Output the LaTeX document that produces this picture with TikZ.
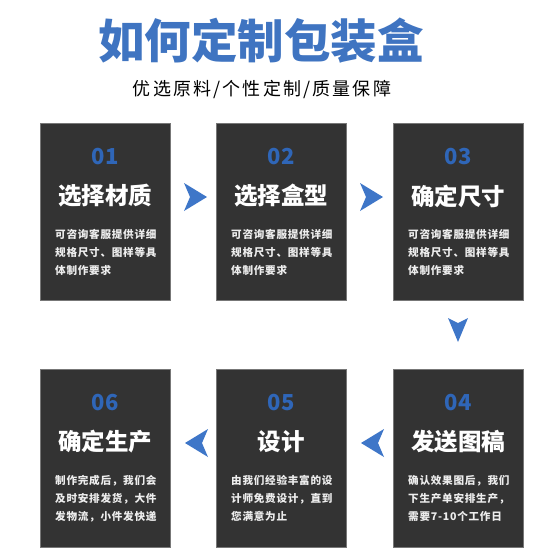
\documentclass[tikz,border=0pt]{standalone}
\usepackage{fontspec}
\setmainfont{Noto Sans CJK SC}
\newfontfamily\cjk{Noto Sans CJK SC}
\newfontfamily\cjksub[LetterSpace=12]{Noto Sans CJK SC}
\newfontfamily\cjkdesc[LetterSpace=7]{Noto Sans CJK SC}
\definecolor{titleblue}{HTML}{3F74C1}
\definecolor{numblue}{HTML}{2F66B8}
\definecolor{boxgray}{HTML}{333333}
\definecolor{boxedge}{HTML}{777777}
\definecolor{arrowblue}{HTML}{3E76C8}
\definecolor{desccol}{HTML}{EDEDED}
\begin{document}
\begin{tikzpicture}[x=1pt,y=-1pt,
  stepbox/.style={fill=boxgray,draw=boxedge,line width=0.6pt,minimum width=130pt,minimum height=177pt,inner sep=0pt,anchor=north west},
  numtext/.style={text=numblue,font=\cjk\bfseries\fontsize{22}{22}\selectfont,inner sep=0pt},
  steptitle/.style={text=white,font=\cjk\bfseries\fontsize{23.5}{23.5}\selectfont,inner sep=0pt},
  desctext/.style={text=desccol,font=\cjkdesc\bfseries\fontsize{10.6}{18}\selectfont,align=left,inner sep=0pt,anchor=north west},
  flowarrow/.style={fill=arrowblue,draw=none}
]
\useasboundingbox (0,0) rectangle (560,560);
\fill[white] (0,0) rectangle (560,560);

% headings
\node[text=titleblue,font=\cjk\bfseries\fontsize{46.5}{46.5}\selectfont,inner sep=0pt] (head) at (261,41) {如何定制包装盒};
\node[text=black,font=\cjksub\fontsize{18}{18}\selectfont,inner sep=0pt] (sub) at (262,89) {优选原料/个性定制/质量保障};

% boxes
\node[stepbox] (b1) at (40,123) {};
\node[stepbox] (b2) at (216,123) {};
\node[stepbox] (b3) at (393,123) {};
\node[stepbox,minimum height=178pt] (b6) at (40,369) {};
\node[stepbox,minimum height=178pt] (b5) at (216,369) {};
\node[stepbox,minimum height=178pt] (b4) at (393,369) {};

% box 1
\node[numtext] (n1) at (105,157) {01};
\node[steptitle] (t1) at (105,196) {选择材质};
\node[desctext] (d1) at (55,229) {可咨询客服提供详细\\规格尺寸、图样等具\\体制作要求};
% box 2
\node[numtext] (n2) at (281,157) {02};
\node[steptitle] (t2) at (281,196) {选择盒型};
\node[desctext] (d2) at (231,229) {可咨询客服提供详细\\规格尺寸、图样等具\\体制作要求};
% box 3
\node[numtext] (n3) at (458,157) {03};
\node[steptitle] (t3) at (458,196) {确定尺寸};
\node[desctext] (d3) at (408,229) {可咨询客服提供详细\\规格尺寸、图样等具\\体制作要求};
% box 6
\node[numtext] (n6) at (105,403) {06};
\node[steptitle] (t6) at (105,442) {确定生产};
\node[desctext] (d6) at (55,475) {制作完成后，我们会\\及时安排发货，大件\\发物流，小件发快递};
% box 5
\node[numtext] (n5) at (281,403) {05};
\node[steptitle] (t5) at (281,442) {设计};
\node[desctext] (d5) at (231,475) {由我们经验丰富的设\\计师免费设计，直到\\您满意为止};
% box 4
\node[numtext] (n4) at (458,403) {04};
\node[steptitle] (t4) at (458,442) {发送图稿};
\node[desctext] (d4) at (408,475) {确认效果图后，我们\\下生产单安排生产，\\需要7-10个工作日};

% arrows
\coordinate (a1) at (195,197);
\coordinate (a2) at (371,197);
\coordinate (a3) at (458,330);
\coordinate (a4) at (373,443);
\coordinate (a5) at (197,443);
\fill[flowarrow] ([shift={(12,0)}]a1) -- ([shift={(-11,-14)}]a1) -- ([shift={(-5,0)}]a1) -- ([shift={(-11,14)}]a1) -- cycle;
\fill[flowarrow] ([shift={(12,0)}]a2) -- ([shift={(-11,-14)}]a2) -- ([shift={(-5,0)}]a2) -- ([shift={(-11,14)}]a2) -- cycle;
\fill[flowarrow] ([shift={(0,12)}]a3) -- ([shift={(-10,-12)}]a3) -- ([shift={(0,-7)}]a3) -- ([shift={(10,-12)}]a3) -- cycle;
\fill[flowarrow] ([shift={(-12,0)}]a4) -- ([shift={(11,-14)}]a4) -- ([shift={(5,0)}]a4) -- ([shift={(11,14)}]a4) -- cycle;
\fill[flowarrow] ([shift={(-12,0)}]a5) -- ([shift={(11,-14)}]a5) -- ([shift={(5,0)}]a5) -- ([shift={(11,14)}]a5) -- cycle;
\end{tikzpicture}
\end{document}
